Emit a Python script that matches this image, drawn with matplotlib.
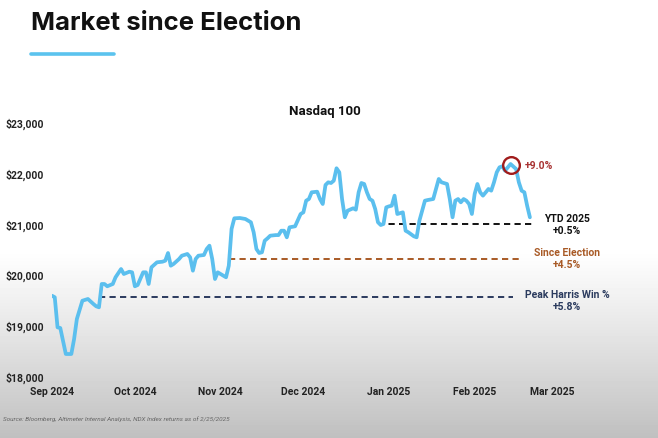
import numpy as np
import matplotlib
matplotlib.use("Agg")
import matplotlib.pyplot as plt

# NDX close
dates = [
    "2024-09-01", "2024-09-02", "2024-09-03", "2024-09-04", "2024-09-06", "2024-09-08",
    "2024-09-09", "2024-09-10", "2024-09-12", "2024-09-14", "2024-09-16", "2024-09-17",
    "2024-09-18", "2024-09-19", "2024-09-20", "2024-09-21", "2024-09-23", "2024-09-24",
    "2024-09-26", "2024-09-27", "2024-09-29", "2024-09-30", "2024-10-01", "2024-10-02",
    "2024-10-04", "2024-10-05", "2024-10-06", "2024-10-07", "2024-10-09", "2024-10-11",
    "2024-10-12", "2024-10-13", "2024-10-14", "2024-10-15", "2024-10-17", "2024-10-18",
    "2024-10-20", "2024-10-21", "2024-10-22", "2024-10-23", "2024-10-24", "2024-10-26",
    "2024-10-27", "2024-10-28", "2024-10-29", "2024-10-30", "2024-10-31", "2024-11-01",
    "2024-11-02", "2024-11-03", "2024-11-04", "2024-11-05", "2024-11-06", "2024-11-08",
    "2024-11-10", "2024-11-12", "2024-11-13", "2024-11-14", "2024-11-15", "2024-11-16",
    "2024-11-17", "2024-11-18", "2024-11-19", "2024-11-21", "2024-11-22", "2024-11-23",
    "2024-11-24", "2024-11-25", "2024-11-26", "2024-11-28", "2024-11-30", "2024-12-01",
    "2024-12-02", "2024-12-03", "2024-12-04", "2024-12-06", "2024-12-07", "2024-12-08",
    "2024-12-09", "2024-12-10", "2024-12-11", "2024-12-12", "2024-12-13", "2024-12-14",
    "2024-12-15", "2024-12-16", "2024-12-17", "2024-12-19", "2024-12-20", "2024-12-21",
    "2024-12-22", "2024-12-23", "2024-12-24", "2024-12-25", "2024-12-26", "2024-12-27",
    "2024-12-28", "2024-12-29", "2024-12-30", "2024-12-31", "2025-01-01", "2025-01-02",
    "2025-01-03", "2025-01-04", "2025-01-06", "2025-01-07", "2025-01-08", "2025-01-10",
    "2025-01-11", "2025-01-12", "2025-01-13", "2025-01-14", "2025-01-15", "2025-01-17",
    "2025-01-18", "2025-01-19", "2025-01-20", "2025-01-22", "2025-01-23", "2025-01-24",
    "2025-01-25", "2025-01-26", "2025-01-27", "2025-01-28", "2025-01-29", "2025-01-30",
    "2025-01-31", "2025-02-01", "2025-02-02", "2025-02-03", "2025-02-04", "2025-02-05",
    "2025-02-06", "2025-02-07", "2025-02-08", "2025-02-09", "2025-02-10", "2025-02-11",
    "2025-02-12", "2025-02-13", "2025-02-14", "2025-02-16", "2025-02-17", "2025-02-18",
    "2025-02-19", "2025-02-20", "2025-02-21",
]
ndx = [
    19580, 19550, 18958, 18945, 18433, 18433,
    18728, 19122, 19482, 19516, 19417, 19372,
    19352, 19811, 19811, 19766, 19811, 19943,
    20106, 20008, 20053, 20041, 19766, 19791,
    20041, 20041, 19811, 20140, 20238, 20250,
    20270, 20421, 20171, 20205, 20303, 20368,
    20402, 20337, 20073, 20303, 20368, 20382,
    20500, 20565, 20303, 19909, 20041, 20008,
    19975, 19943, 20171, 20894, 21104, 21110,
    21091, 21026, 20829, 20500, 20421, 20435,
    20663, 20709, 20762, 20774, 20774, 20860,
    20860, 20730, 20927, 20947, 21189, 21222,
    21451, 21484, 21616, 21628, 21484, 21386,
    21760, 21813, 21799, 21845, 22089, 22010,
    21484, 21124, 21254, 21301, 21274, 21616,
    21799, 21780, 21616, 21484, 21451, 21287,
    21026, 20972, 20992, 21320, 21340, 21353,
    21550, 21189, 21222, 20860, 20829, 20750,
    20730, 21057, 21254, 21451, 21464, 21484,
    21681, 21878, 21813, 21780, 21484, 21124,
    21451, 21484, 21419, 21484, 21451, 21386,
    21189, 21583, 21780, 21616, 21550, 21616,
    21681, 21648, 21813, 22010, 22108, 22128,
    22041, 22108, 22173, 22075, 21813, 21648,
    21616, 21353, 21124,
]

# reference levels (dashed lines)
ref_names = ["YTD 2025", "Since Election", "Peak Harris Win %"]
ref_changes = ["+0.5%", "+4.5%", "+5.8%"]
ref_levels = [20990, 20310, 19555]
ref_start = ["2024-12-28", "2024-11-04", "2024-09-18"]
ref_end = ["2025-02-22", "2025-02-18", "2025-02-15"]
ref_colors = ["#111111", "#a85a26", "#2b3b5e"]

peak_date = "2025-02-14"
peak_value = 22150
peak_label = "+9.0%"

months = ["2024-09-01", "2024-10-01", "2024-11-01", "2024-12-01",
          "2025-01-01", "2025-02-01", "2025-03-01"]
month_labels = ["Sep 2024", "Oct 2024", "Nov 2024", "Dec 2024",
                "Jan 2025", "Feb 2025", "Mar 2025"]
yticks = [18000, 19000, 20000, 21000, 22000, 23000]

plt.rcParams['font.family'] = ['Roboto', 'DejaVu Sans']

W, H = 658, 439
fig = plt.figure(figsize=(W / 100, H / 100), dpi=100)

# grey vignette at the bottom of the slide
bg = fig.add_axes([0, 0, 1, 1], zorder=-10)
grad = np.ones((H, 1))
rows = np.arange(H)
grad[:, 0] = np.where(rows < 250, 1.0, 1.0 - 0.25 * ((rows - 250) / (H - 250)) ** 1.1)
bg.imshow(grad, cmap="gray", vmin=0, vmax=1, aspect="auto", extent=[0, 1, 0, 1])
bg.axis("off")

ax = fig.add_axes([52 / W, 1 - 377 / H, 500 / W, 254 / H])
ax.set_facecolor("none")

x = np.array(dates, dtype="datetime64[D]")
ax.plot(x, ndx, color="#5bbfee", lw=2.7, solid_joinstyle="round",
        solid_capstyle="round", zorder=3)

for lev, s, e, c in zip(ref_levels, ref_start, ref_end, ref_colors):
    ax.plot([np.datetime64(s), np.datetime64(e)], [lev, lev], color=c,
            lw=1.4, ls=(0, (3.2, 2.2)), zorder=2)

ax.plot([np.datetime64(peak_date)], [peak_value], marker="o", ms=12,
        mfc="none", mec="#a01c1c", mew=1.7, zorder=4)

ax.set_xlim(np.datetime64(months[0]), np.datetime64(months[-1]))
ax.set_ylim(18000, 23000)
ax.set_xticks(np.array(months, dtype="datetime64[D]"))
ax.set_xticklabels(month_labels)
ax.set_yticks(yticks)
ax.set_yticklabels(["${:,}".format(v) for v in yticks])
ax.tick_params(length=0, labelsize=7.5, colors="#222222")
ax.tick_params(axis="y", pad=6)
ax.tick_params(axis="x", pad=7)
for lab in ax.get_xticklabels() + ax.get_yticklabels():
    lab.set_fontweight("bold")
for sp in ax.spines.values():
    sp.set_visible(False)

# slide title + accent bar
fig.text(31 / W, 1 - 23 / H, "Market since Election", fontsize=18.5,
         fontweight="bold", va="center", ha="left", color="#111111",
         family=["Inter", "DejaVu Sans"])
fig.add_artist(plt.Line2D([31 / W, 114 / W], [1 - 55 / H, 1 - 55 / H],
                          color="#5bc3ee", lw=2.6, solid_capstyle="round"))

fig.text(325 / W, 1 - 112 / H, "Nasdaq 100", fontsize=9.5, fontweight="bold",
         ha="center", va="center", color="#111111")

# right-hand labels
label_y = [225, 259, 301]
for name, chg, c, yy in zip(ref_names, ref_changes, ref_colors, label_y):
    fig.text(567 / W, 1 - yy / H, name + "\n" + chg, fontsize=7.5,
             fontweight="bold", ha="center", va="center", color=c,
             linespacing=1.25)

fig.text(525 / W, 1 - 166 / H, peak_label, fontsize=7.5, fontweight="bold",
         ha="left", va="center", color="#a83232")

fig.text(3 / W, 1 - 419 / H,
         "Source: Bloomberg, Altimeter Internal Analysis, NDX Index returns as of 2/25/2025",
         fontsize=4.6, style="italic", ha="left", va="center", color="#666666")

fig.savefig("out.png", dpi=100)
